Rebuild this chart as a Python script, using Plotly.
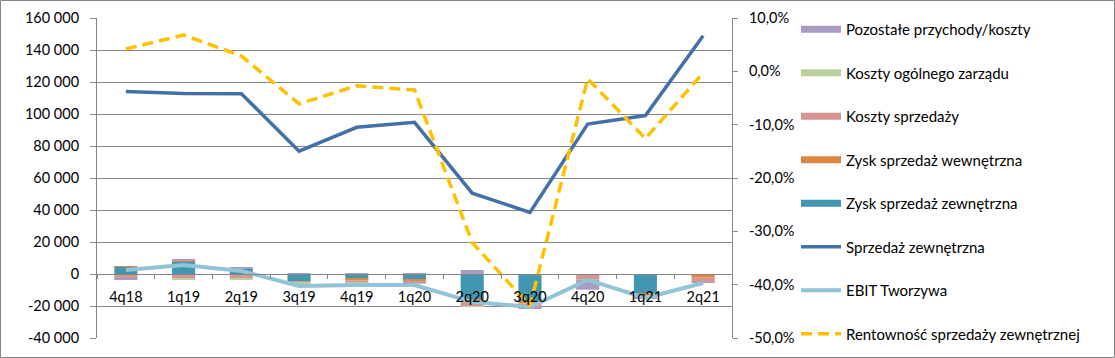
import plotly.graph_objects as go

categories = ["4q18", "1q19", "2q19", "3q19", "4q19", "1q20", "2q20", "3q20", "4q20", "1q21", "2q21"]

zysk_zew = [4400, 8000, 3500, -4400, -2700, -3500, -16200, -17300, -400, -12000, -500]
zysk_wew = [600, 700, 0, 0, -1200, -600, -1000, -1000, 0, -1000, -1800]
koszty_sprz = [-2500, -2900, -3000, -1200, -1700, -1700, -3100, -2700, -3100, -2100, -2700]
koszty_zarz = [-300, -400, -300, -300, -200, -200, -300, -200, -100, -200, -200]
pozostale = [-400, 300, 300, 500, 400, 400, 2500, -200, -6200, -300, -400]

sprzedaz = [114000, 112800, 112700, 76800, 91700, 94800, 50500, 38500, 93700, 99000, 148900]
ebit = [2500, 5600, 1900, -7500, -6900, -6900, -17400, -20600, -3700, -15000, -5600]
rentownosc = [0.042, 0.068, 0.029, -0.061, -0.027, -0.035, -0.321, -0.44, -0.014, -0.126, -0.003]

left_ticks = [-40000, -20000, 0, 20000, 40000, 60000, 80000, 100000, 120000, 140000, 160000]
left_labels = ["-40 000", "-20 000", "0", "20 000", "40 000", "60 000", "80 000",
               "100 000", "120 000", "140 000", "160 000"]
right_ticks = [-0.5, -0.4, -0.3, -0.2, -0.1, 0.0, 0.1]
right_labels = ["-50,0%", "-40,0%", "-30,0%", "-20,0%", "-10,0%", "0,0%", "10,0%"]

C_POZ = "#A99BC4"
C_ZARZ = "#BBD19B"
C_SPRZ = "#D69592"
C_WEW = "#DE8743"
C_ZEW = "#4297B0"
C_SPRZEDAZ = "#4470A8"
C_EBIT = "#92C3D6"
C_RENT = "#FFC000"

FONT = "Lato"
FS = 14.5

fig = go.Figure()

# legend entries (wide rectangles like the original)
legend_items = [
    ("Pozostałe przychody/koszty", C_POZ),
    ("Koszty ogólnego zarządu", C_ZARZ),
    ("Koszty sprzedaży", C_SPRZ),
    ("Zysk sprzedaż wewnętrzna", C_WEW),
    ("Zysk sprzedaż zewnętrzna", C_ZEW),
]
for i, (name, col) in enumerate(legend_items):
    fig.add_trace(go.Scatter(x=[None], y=[None], mode="lines", name=name,
                             line=dict(color=col, width=7),
                             legendgroup=f"g{i}", hoverinfo="skip"))

bar_series = [
    ("Zysk sprzedaż zewnętrzna", zysk_zew, C_ZEW),
    ("Zysk sprzedaż wewnętrzna", zysk_wew, C_WEW),
    ("Koszty sprzedaży", koszty_sprz, C_SPRZ),
    ("Koszty ogólnego zarządu", koszty_zarz, C_ZARZ),
    ("Pozostałe przychody/koszty", pozostale, C_POZ),
]
for name, vals, col in bar_series:
    fig.add_trace(go.Bar(x=categories, y=vals, name=name, marker=dict(color=col, line=dict(width=0)),
                         showlegend=False))

fig.add_trace(go.Scatter(x=categories, y=sprzedaz, name="Sprzedaż zewnętrzna", mode="lines",
                         line=dict(color=C_SPRZEDAZ, width=3.5), legendgroup="g5"))
fig.add_trace(go.Scatter(x=categories, y=ebit, name="EBIT Tworzywa", mode="lines",
                         line=dict(color=C_EBIT, width=4), legendgroup="g6"))
fig.add_trace(go.Scatter(x=categories, y=rentownosc, name="Rentowność sprzedaży zewnętrznej",
                         mode="lines", yaxis="y2",
                         line=dict(color=C_RENT, width=3.5, dash="11px,6px"), legendgroup="g7"))

W, H = 1115, 358
ML, MR, MT, MB = 97, 383, 18, 20
PW, PH = W - ML - MR, H - MT - MB
grid = "#868686"

fig.update_layout(
    width=W, height=H,
    margin=dict(l=ML, r=MR, t=MT, b=MB, pad=0, autoexpand=False),
    paper_bgcolor="white", plot_bgcolor="white",
    font=dict(family=FONT, size=FS, color="#000000"),
    barmode="relative", bargap=0.6,
    showlegend=True,
    legend=dict(x=1 + (796 - ML - PW) / PW, xanchor="left", y=1 + 5 / PH, yanchor="top",
                traceorder="grouped", tracegroupgap=21, itemwidth=40, maxheight=600,
                font=dict(family=FONT, size=15, color="#000000"),
                bgcolor="rgba(0,0,0,0)"),
    xaxis=dict(type="category", anchor="free", position=0.2, showgrid=False, automargin=False,
               showline=True, linecolor=grid, linewidth=1,
               ticks="outside", tickson="boundaries", ticklen=4, tickcolor=grid,
               ticklabelstandoff=10, zeroline=False),
    yaxis=dict(range=[-40000, 160000], tickvals=left_ticks, ticktext=left_labels, automargin=False,
               showgrid=True, gridcolor=grid, gridwidth=1, zeroline=False,
               showline=True, linecolor=grid, linewidth=1,
               ticks="outside", ticklen=6, tickcolor=grid, ticklabelstandoff=8),
    yaxis2=dict(range=[-0.5, 0.1], tickvals=right_ticks, ticktext=right_labels, automargin=False,
                overlaying="y", side="right", showgrid=False, zeroline=False,
                showline=True, linecolor=grid, linewidth=1,
                ticks="outside", ticklen=5, tickcolor=grid, ticklabelstandoff=8),
    shapes=[dict(type="rect", xref="paper", yref="paper",
                 x0=(-ML + 0.5) / PW, x1=(W - ML - 0.5) / PW,
                 y0=(-MB + 0.5) / PH, y1=1 + (MT - 0.5) / PH,
                 line=dict(color=grid, width=1), fillcolor="rgba(0,0,0,0)", layer="below")],
)

fig.write_html("out.html", config={"displayModeBar": False},
               post_script="document.body.style.margin='0';document.body.style.padding='0';")
